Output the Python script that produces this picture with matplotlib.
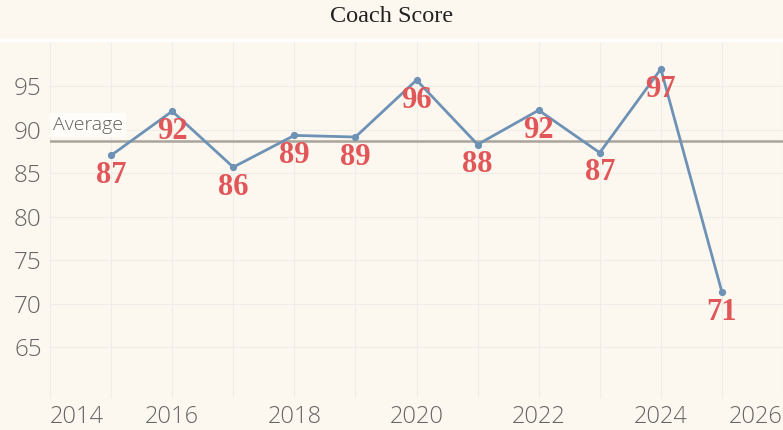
import matplotlib
matplotlib.use("Agg")
import matplotlib.pyplot as plt
from matplotlib.lines import Line2D
import numpy as np

years = [2015, 2016, 2017, 2018, 2019, 2020, 2021, 2022, 2023, 2024, 2025]
scores = [87.05, 92.12, 85.7, 89.35, 89.16, 95.7, 88.3, 92.24, 87.36, 96.97, 71.36]
score_labels = ["87", "92", "86", "89", "89", "96", "88", "92", "87", "97", "71"]
x_ticks = [2014, 2016, 2018, 2020, 2022, 2024, 2026]
y_ticks = [65, 70, 75, 80, 85, 90, 95]
title = "Coach Score"

bg = "#fdf8ef"
line_c = "#6e92b6"
red = "#e15759"
grid_c = "#efede9"
tick_c = "#666666"
sans = ["Open Sans", "Lato", "DejaVu Sans"]

fig = plt.figure(figsize=(7.83, 4.30), dpi=100, facecolor=bg)
ax = fig.add_axes([50 / 783, 39 / 430, 733 / 783, 351 / 430])
ax.set_facecolor(bg)

ax.set_xlim(2014, 2026)
ax.set_ylim(60, 100.3)

ax.set_xticks(range(2014, 2026), minor=True)
ax.set_xticks(x_ticks)
ax.set_yticks(y_ticks)
ax.set_yticks([60], minor=True)
ax.grid(True, which="both", color=grid_c, linewidth=0.8)
ax.set_axisbelow(True)

for s in ["left", "right", "bottom", "top"]:
    ax.spines[s].set_visible(False)

# white separator under the title
fig.add_artist(Line2D([0, 1], [1 - 40 / 430, 1 - 40 / 430], color="white",
                      linewidth=2.5, transform=fig.transFigure))

ax.tick_params(axis="x", which="both", length=5, color=grid_c, width=0.8,
               pad=5, labelsize=17, labelcolor=tick_c)
ax.tick_params(axis="y", which="both", length=0, pad=6, labelsize=17.5, labelcolor=tick_c)
ax.set_xticklabels([str(t) for t in x_ticks], family=sans, fontweight="light")
ax.set_yticklabels([str(t) for t in y_ticks], family=sans, fontweight="light")
xl = ax.get_xticklabels()
xl[0].set_horizontalalignment("left")
xl[-1].set_horizontalalignment("right")

avg = float(np.mean(scores))
ax.axhline(avg, color="#a9a49c", linewidth=1.8, zorder=2)
ax.annotate("Average", xy=(2014, avg), xytext=(3, 7), textcoords="offset pixels",
            ha="left", va="bottom", fontsize=14, color="#5e5e5e",
            family=sans, fontweight="light",
            bbox=dict(boxstyle="square,pad=0.15", facecolor="#fffdf9", edgecolor="none"),
            zorder=3)

ax.plot(years, scores, color=line_c, linewidth=2.0, marker="o", markersize=4.2,
        zorder=4, solid_joinstyle="round")

for x, y, lab in zip(years, scores, score_labels):
    ax.annotate(lab, xy=(x, y), xytext=(0, -20), textcoords="offset pixels",
                ha="center", va="center", fontsize=22, fontweight="bold",
                color=red, family=["Liberation Serif", "DejaVu Serif"], zorder=5)

fig.text(0.5, 1 - 16 / 430, title, ha="center", va="center", fontsize=17.5,
         color="#222222", family=["Liberation Serif", "DejaVu Serif"])

fig.savefig("out.png", dpi=100, facecolor=bg)
